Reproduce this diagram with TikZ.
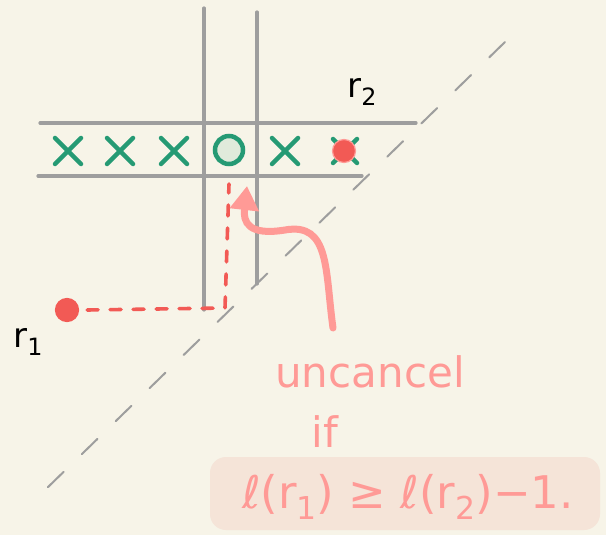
\documentclass[tikz,border=0pt]{standalone}
\usepackage{fontspec}
\setmainfont{DejaVu Sans}
\usetikzlibrary{arrows.meta,calc}
\definecolor{bg}{HTML}{F7F4E8}
\definecolor{gridgray}{HTML}{9E9E9E}
\definecolor{xgreen}{HTML}{259A74}
\definecolor{cfill}{HTML}{E0EADB}
\definecolor{dotred}{HTML}{F25A55}
\definecolor{dotring}{HTML}{FF9A96}
\definecolor{pinkink}{HTML}{FF9A96}
\definecolor{hl}{HTML}{F5E4D8}
\tikzset{
  gridline/.style={gridgray, line width=3.2pt, line cap=round},
  diag/.style={gridgray, line width=2pt, line cap=round, dash pattern=on 22pt off 25.4pt},
  xmark/.style={xgreen, line width=4.5pt, line cap=round},
  reddot/.style={circle, fill=dotred, draw=dotring, line width=1.2pt, minimum size=23pt, inner sep=0pt},
  reddash/.style={dotred, line width=3.6pt, line cap=round, dash pattern=on 11pt off 12pt},
  pinklabel/.style={pinkink, font=\fontsize{42}{48}\selectfont},
  formula/.style={pinkink, font=\fontsize{45}{50}\selectfont},
  blacklabel/.style={black, font=\fontsize{34}{40}\selectfont}
}
\newcommand{\xmk}[3]{\draw[xmark] ($(#1,#2)+(-#3,-#3)$) -- ($(#1,#2)+(#3,#3)$); \draw[xmark] ($(#1,#2)+(-#3,#3)$) -- ($(#1,#2)+(#3,-#3)$);}
\newcommand{\lowsub}[1]{\raisebox{-0.25em}{\fontsize{0.7em}{0.7em}\selectfont #1}}
\begin{document}
\begin{tikzpicture}[x=1pt,y=-1pt]
\fill[bg] (0,0) rectangle (606,535);
\useasboundingbox (0,0) rectangle (606,535);
% diagonal dashed
\coordinate (d1) at (45,490);
\coordinate (d2) at (505,42);
\draw[diag] (d2) -- (d1);
% grid lines
\coordinate (v1t) at (204,8); \coordinate (v1b) at (204,310);
\coordinate (v2t) at (257,12); \coordinate (v2b) at (257,284);
\coordinate (h1l) at (40,123); \coordinate (h1r) at (416,123);
\coordinate (h2l) at (38,176); \coordinate (h2r) at (362,176);
\draw[gridline] (v1t) -- (v1b);
\draw[gridline] (v2t) -- (v2b);
\draw[gridline] (h1l) -- (h1r);
\draw[gridline] (h2l) -- (h2r);
% marks
\xmk{68}{151}{13}
\xmk{120}{151}{13}
\xmk{174}{151}{13}
\xmk{285}{151}{13}
\xmk{345}{151}{12}
\node[circle, draw=xgreen, fill=cfill, line width=4.5pt, minimum size=28pt, inner sep=0pt] (o) at (229,150) {};
\node[reddot] (r2dot) at (344,151) {};
\node[reddot, draw=dotred] (r1dot) at (67,310) {};
% labels
\node[blacklabel] (r2) at (362,92) {r\lowsub{2}};
\node[blacklabel] (r1) at (28,342) {r\lowsub{1}};
% red dashed path
\coordinate (c1) at (225,308);
\draw[reddash] (r1dot.east) ++(8,0) -- (c1) -- (o.south |- 0,184);
% pink arrow
\coordinate (tail) at (333,328);
\coordinate (tip) at (247,186);
\draw[pinkink, line width=7pt, line cap=round, -{Triangle[length=24pt,width=28pt]}]
  (tail) .. controls (325,270) and (330,222) .. (285,230) .. controls (248,236) and (243,222) .. (tip);
% highlight
\fill[hl, rounded corners=16pt] (210,457) rectangle (600,530);
% texts
\node[pinklabel] (t1) at (370,372) {uncancel};
\node[pinklabel] (t2) at (325,432) {if};
\node[formula] (t3) at (408,497) {ℓ(r\lowsub{1}) ≥ ℓ(r\lowsub{2})−1.};
\end{tikzpicture}
\end{document}
